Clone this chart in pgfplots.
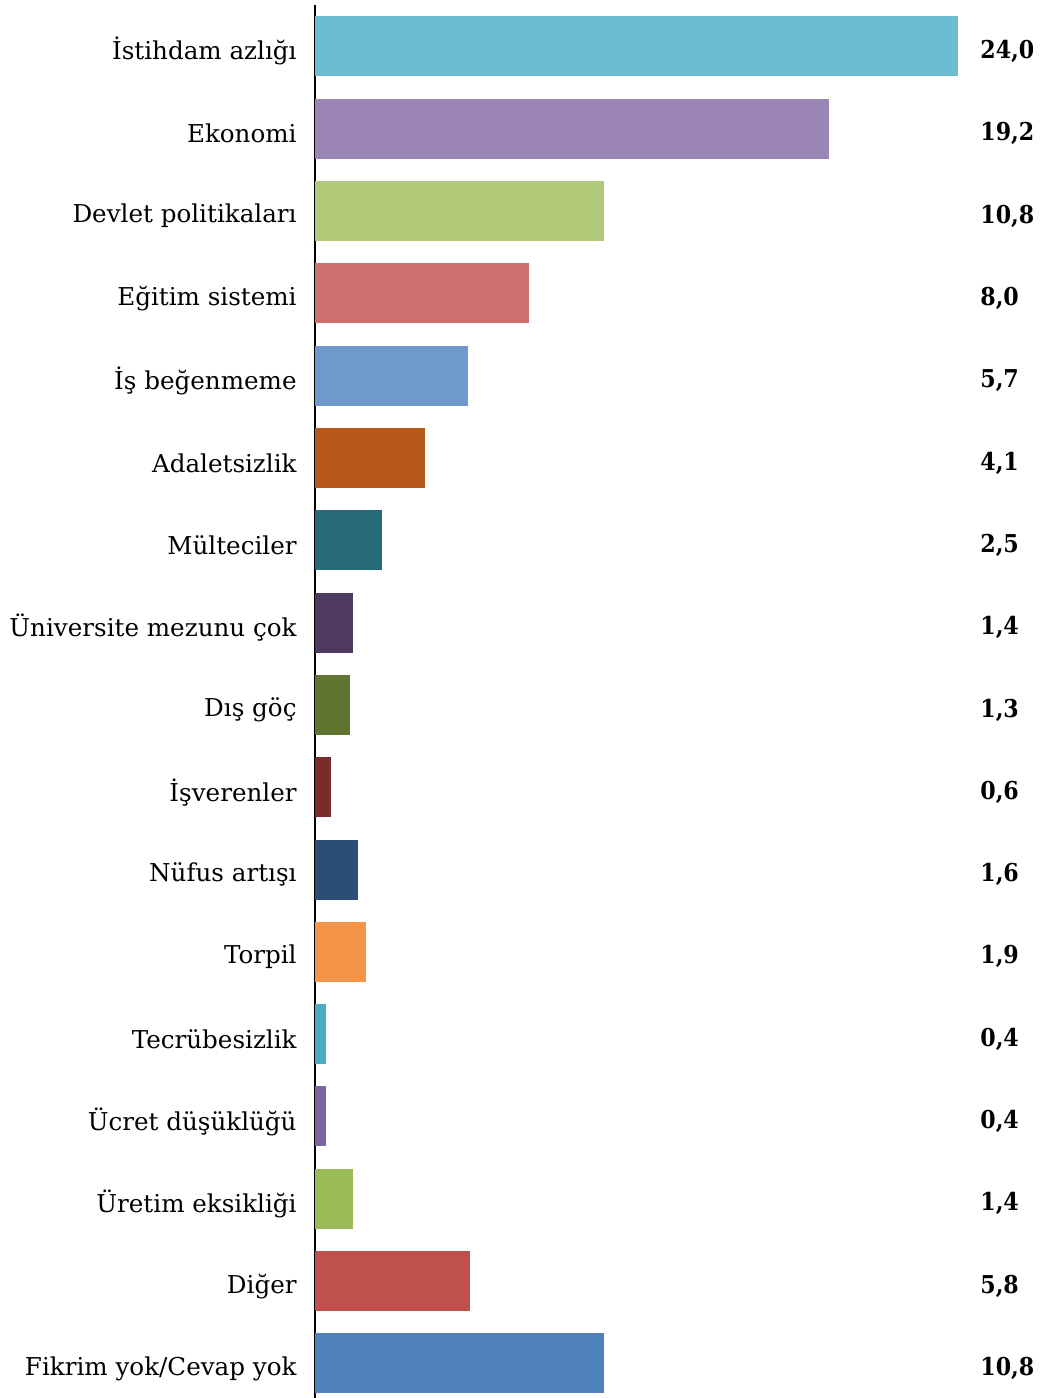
\documentclass[border=0pt]{standalone}
\usepackage{fontspec}
\setmainfont{DejaVu Serif}
\newfontfamily\numfont{DejaVu Serif Condensed}
\usepackage{pgfplots}
\pgfplotsset{compat=1.18}
\definecolor{c1}{HTML}{6CBDD2}
\definecolor{c2}{HTML}{9B85B4}
\definecolor{c3}{HTML}{B1CA7A}
\definecolor{c4}{HTML}{CD706E}
\definecolor{c5}{HTML}{6F99CA}
\definecolor{c6}{HTML}{B55819}
\definecolor{c7}{HTML}{276B7B}
\definecolor{c8}{HTML}{4D3A5E}
\definecolor{c9}{HTML}{5F7530}
\definecolor{c10}{HTML}{7A2B2B}
\definecolor{c11}{HTML}{2C4D75}
\definecolor{c12}{HTML}{F59549}
\definecolor{c13}{HTML}{4BACC6}
\definecolor{c14}{HTML}{8064A2}
\definecolor{c15}{HTML}{9BBB59}
\definecolor{c16}{HTML}{C0504D}
\definecolor{c17}{HTML}{4F81BD}
\pgfplotsset{mybar/.style={xbar, bar width=30pt, bar shift=0pt, draw=none, fill=#1}}
\begin{document}
\begin{tikzpicture}
\useasboundingbox (0,0) rectangle (520.5pt,699pt);
\begin{axis}[
  at={(157.5pt,0pt)}, anchor=south west,
  scale only axis, width=321.5pt, height=696.4pt,
  xmin=0, xmax=24, ymin=-0.5, ymax=16.42, y dir=reverse,
  axis x line=none, axis y line=left,
  y axis line style={-, black, line width=0.6pt},
  ytick={0,...,16}, major tick length=0pt,
  yticklabels={İstihdam azlığı, Ekonomi, Devlet politikaları, Eğitim sistemi, İş beğenmeme, Adaletsizlik, Mülteciler, Üniversite mezunu çok, Dış göç, İşverenler, Nüfus artışı, Torpil, Tecrübesizlik, Ücret düşüklüğü, Üretim eksikliği, Diğer, Fikrim yok/Cevap yok},
  yticklabel style={font=\fontsize{12.3}{14}\selectfont, inner sep=0pt, xshift=-9pt, yshift=-2.5pt},
  clip=false]
\addplot[mybar=c1] coordinates {(24.0,0)};
\addplot[mybar=c2] coordinates {(19.2,1)};
\addplot[mybar=c3] coordinates {(10.8,2)};
\addplot[mybar=c4] coordinates {(8.0,3)};
\addplot[mybar=c5] coordinates {(5.7,4)};
\addplot[mybar=c6] coordinates {(4.1,5)};
\addplot[mybar=c7] coordinates {(2.5,6)};
\addplot[mybar=c8] coordinates {(1.4,7)};
\addplot[mybar=c9] coordinates {(1.3,8)};
\addplot[mybar=c10] coordinates {(0.6,9)};
\addplot[mybar=c11] coordinates {(1.6,10)};
\addplot[mybar=c12] coordinates {(1.9,11)};
\addplot[mybar=c13] coordinates {(0.4,12)};
\addplot[mybar=c14] coordinates {(0.4,13)};
\addplot[mybar=c15] coordinates {(1.4,14)};
\addplot[mybar=c16] coordinates {(5.8,15)};
\addplot[mybar=c17] coordinates {(10.8,16)};
\addplot[only marks, mark=none, nodes near coords, point meta=explicit symbolic,
  every node near coord/.append style={anchor=west, inner sep=0pt, yshift=-2.5pt, font=\numfont\bfseries\fontsize{12.3}{14}\selectfont}]
  table[x=x, y=y, meta=lbl] {
x y lbl
24.82 0 24,0
24.82 1 19,2
24.82 2 10,8
24.82 3 8,0
24.82 4 5,7
24.82 5 4,1
24.82 6 2,5
24.82 7 1,4
24.82 8 1,3
24.82 9 0,6
24.82 10 1,6
24.82 11 1,9
24.82 12 0,4
24.82 13 0,4
24.82 14 1,4
24.82 15 5,8
24.82 16 10,8
};
\end{axis}
\end{tikzpicture}
\end{document}
